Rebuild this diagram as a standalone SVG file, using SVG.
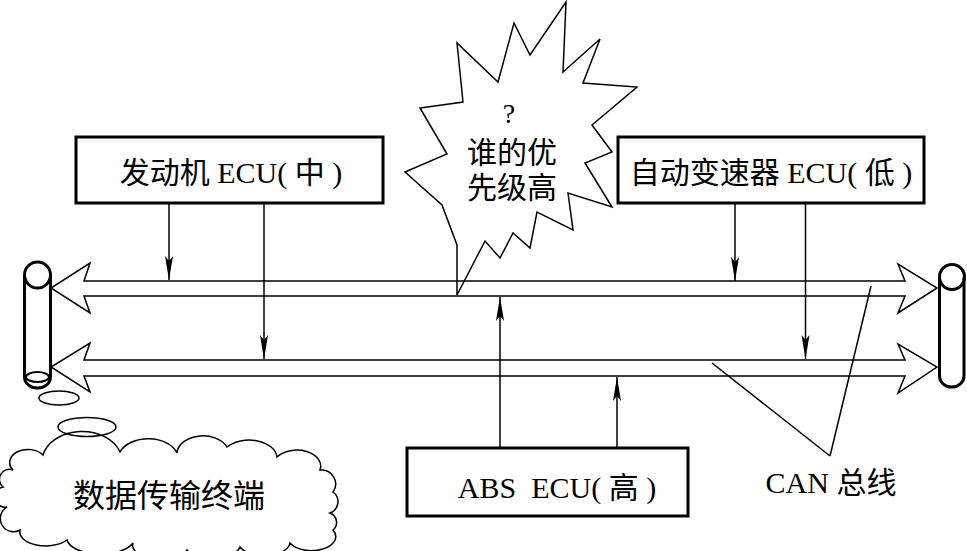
<svg xmlns="http://www.w3.org/2000/svg" width="967" height="551" viewBox="0 0 967 551">
<defs>
<marker id="ah" markerUnits="userSpaceOnUse" markerWidth="30" markerHeight="12" viewBox="-26 -6 28 12" refX="0" refY="0" orient="auto">
<path d="M0,0 L-24,-4 L-19,0 L-24,4 Z" fill="#000"/>
</marker>
</defs>
<style>
.box{fill:#fff;stroke:#000;stroke-width:3}
.ln{fill:none;stroke:#000;stroke-width:1.5}
.thick{fill:none;stroke:#000;stroke-width:3}
.t{font-family:"Liberation Serif","Noto Sans CJK SC",serif;font-size:30px;fill:#000;text-anchor:middle}
</style>
<rect width="967" height="551" fill="#fff"/>
<g id="starburst">
<polygon class="ln" style="fill:#fff" points="566,2 530,55 514,23 498,82 457,43 463,102 420,108 447,154 405,172 442,205 457,245 457,295 485,241 500,258 513,233 530,248 537,212 573,230 568,193 612,207 585,163 612,152 592,125 637,87 583,83 600,39 563,72"/>
<text class="t" x="509" y="123" style="font-size:28px">?</text>
<text class="t" x="512" y="163">谁的优</text>
<text class="t" x="512" y="198">先级高</text>
</g>
<g id="bus">
<path class="ln" d="M84,281 L90,263 L51,288 L90,313 L84,296 L905,296 L898,313 L937,288 L898,264 L905,281 Z"/>
<path class="ln" d="M84,360 L90,343 L51,367 L90,392 L84,376 L905,376 L898,393 L937,367 L898,344 L905,360 Z"/>
</g>
<g id="left-terminal">
<circle class="thick" cx="37.5" cy="275" r="13"/>
<path class="thick" d="M24.5,275 L24.5,377 A13,11 0 0 0 50.5,377 L50.5,275"/>
<ellipse class="ln" cx="37.5" cy="377" rx="11.5" ry="5" style="stroke-width:2"/>
<ellipse class="ln" cx="59" cy="398" rx="20" ry="7"/>
<ellipse class="ln" cx="87" cy="427" rx="29" ry="9.5"/>
</g>
<g id="right-terminal">
<circle class="thick" cx="952" cy="277" r="12.5"/>
<path class="thick" d="M939.5,277 L939.5,376 A12.25,11 0 0 0 964,376 L964,277"/>
</g>
<g id="cloud">
<path class="ln" d="M13,470 A14,10 0 0 1 43,455 A40,30 0 0 1 120,452 A30,20 0 0 1 177,453 A26,18 0 0 1 227,447 A28,18 0 0 1 277,457 A24,16 0 0 1 320,470 A14,14 0 0 1 333,492 A12,12 0 0 1 330,513 A10,10 0 0 1 333,530 A24,14 0 0 1 290,543 A26,14 0 0 1 240,547 A28,14 0 0 1 187,550 A28,14 0 0 1 133,543 A34,16 0 0 1 67,540 A26,14 0 0 1 20,530 A12,12 0 0 1 7,507 A10,10 0 0 1 3,487 A10,10 0 0 1 13,470 Z"/>
<text class="t" x="169" y="507" style="font-size:32px">数据传输终端</text>
</g>
<g id="engine-ecu">
<rect class="box" x="76" y="137" width="307" height="66"/>
<text class="t" x="231" y="183">发动机 ECU( 中 )</text>
</g>
<g id="tcu-ecu">
<rect class="box" x="618" y="137" width="306" height="66"/>
<text class="t" x="771" y="183">自动变速器 ECU( 低 )</text>
</g>
<g id="abs-ecu">
<rect class="box" x="407" y="448" width="281" height="68"/>
<text class="t" x="557" y="498">ABS&#160; ECU( 高 )</text>
</g>
<g id="can-label">
<text class="t" x="831" y="493">CAN 总线</text>
</g>
<g id="connectors">
<line class="ln" x1="169" y1="203" x2="169" y2="280" marker-end="url(#ah)"/>
<line class="ln" x1="264" y1="203" x2="264" y2="359" marker-end="url(#ah)"/>
<line class="ln" x1="735" y1="203" x2="735" y2="281" marker-end="url(#ah)"/>
<line class="ln" x1="805.5" y1="203" x2="805.5" y2="359" marker-end="url(#ah)"/>
<line class="ln" x1="500" y1="448" x2="500" y2="297" marker-end="url(#ah)"/>
<line class="ln" x1="617" y1="448" x2="617" y2="377" marker-end="url(#ah)"/>
<line class="ln" x1="712" y1="363" x2="830" y2="456"/>
<line class="ln" x1="871" y1="286" x2="830" y2="456"/>
</g>
</svg>
